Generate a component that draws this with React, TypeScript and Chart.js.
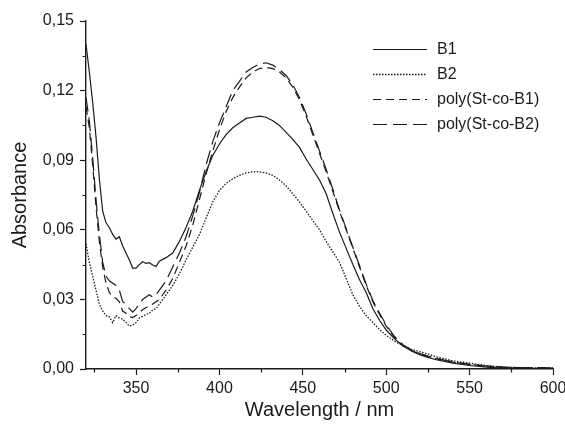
import React, { useEffect, useRef } from "react";
import { Chart, registerables } from "chart.js";

Chart.register(...registerables);

const wavelengths = [320,322,324,326,328,330,332,334,336,338,340,342,344,346,348,350,352,354,356,358,360,362,364,368,372,376,380,384,388,392,396,400,404,408,412,416,420,424,428,432,436,440,444,448,452,456,460,464,468,472,476,480,484,488,492,496,500,505,510,515,520,525,530,540,550,560,570,580,590,600];

const b1 = [0.140,0.128,0.115,0.100,0.082,0.068,0.063,0.061,0.058,0.056,0.057,0.053,0.050,0.047,0.0435,0.0435,0.045,0.0462,0.0455,0.0458,0.0448,0.0442,0.0465,0.048,0.050,0.055,0.061,0.068,0.077,0.085,0.092,0.097,0.101,0.104,0.106,0.108,0.1085,0.109,0.1085,0.107,0.105,0.102,0.099,0.0955,0.0905,0.086,0.0815,0.0755,0.067,0.059,0.052,0.045,0.0385,0.033,0.026,0.021,0.0168,0.013,0.010,0.0078,0.0062,0.005,0.004,0.0025,0.0015,0.0008,0.0004,0.0001,0,0];

const b2 = [0.054,0.046,0.040,0.034,0.028,0.025,0.023,0.0225,0.020,0.023,0.022,0.0215,0.020,0.0185,0.019,0.020,0.022,0.0228,0.0235,0.024,0.0255,0.026,0.028,0.032,0.036,0.041,0.047,0.0525,0.058,0.065,0.072,0.077,0.080,0.082,0.0835,0.0845,0.085,0.085,0.0845,0.0835,0.0815,0.079,0.0755,0.072,0.068,0.064,0.060,0.055,0.0505,0.046,0.039,0.032,0.027,0.023,0.020,0.017,0.0145,0.012,0.010,0.0085,0.0075,0.0065,0.0053,0.0035,0.0025,0.0015,0.0008,0.0005,0.0005,0.0005];

const polyB1 = [0.113,0.104,0.088,0.070,0.055,0.044,0.037,0.033,0.031,0.0305,0.029,0.025,0.024,0.0225,0.0222,0.023,0.0245,0.0255,0.0265,0.027,0.028,0.029,0.030,0.034,0.039,0.046,0.053,0.062,0.073,0.084,0.094,0.103,0.111,0.117,0.1215,0.1255,0.128,0.1295,0.130,0.1295,0.128,0.1255,0.1215,0.116,0.109,0.101,0.093,0.085,0.0765,0.068,0.060,0.052,0.044,0.036,0.029,0.0235,0.0185,0.0135,0.010,0.008,0.0066,0.0055,0.0045,0.003,0.002,0.0013,0.0008,0.0006,0.0005,0.0005];

const polyB2 = [0.117,0.107,0.091,0.073,0.058,0.046,0.040,0.038,0.037,0.036,0.034,0.029,0.028,0.026,0.0245,0.026,0.028,0.030,0.031,0.032,0.031,0.032,0.034,0.038,0.044,0.050,0.057,0.066,0.076,0.088,0.098,0.106,0.113,0.120,0.124,0.128,0.130,0.1315,0.132,0.131,0.129,0.1265,0.1225,0.117,0.110,0.102,0.094,0.086,0.0775,0.0685,0.0605,0.0525,0.0445,0.0365,0.0295,0.024,0.019,0.014,0.0105,0.0083,0.0068,0.0056,0.0046,0.003,0.002,0.0013,0.0008,0.0006,0.0005,0.0005];

const seriesLabels = ["B1", "B2", "poly(St-co-B1)", "poly(St-co-B2)"];
const xMajorTicks = [350, 400, 450, 500, 550, 600];
const xMinorTicks = [325, 375, 425, 475, 525, 575];
const yMajorTicks = [0, 0.03, 0.06, 0.09, 0.12, 0.15];
const yMinorTicks = [0.015, 0.045, 0.075, 0.105, 0.135];

const FONT = "'Liberation Sans', Arial, Helvetica, sans-serif";
const INK = "#1a1a1a";

const minorTicksPlugin = {
  id: "minorTicks",
  afterDraw(chart: any) {
    const ctx = chart.ctx;
    const xs = chart.scales.x;
    const ys = chart.scales.y;
    const area = chart.chartArea;
    ctx.save();
    ctx.strokeStyle = INK;
    ctx.lineWidth = 1.2;
    ctx.beginPath();
    xMinorTicks.forEach((v) => {
      const px = Math.round(xs.getPixelForValue(v)) + 0.5;
      ctx.moveTo(px, area.bottom);
      ctx.lineTo(px, area.bottom + 3.5);
    });
    yMinorTicks.forEach((v) => {
      const py = Math.round(ys.getPixelForValue(v)) + 0.5;
      ctx.moveTo(area.left, py);
      ctx.lineTo(area.left - 3.5, py);
    });
    ctx.stroke();
    ctx.restore();
  },
};

const legendPlugin = {
  id: "insideLegend",
  afterDraw(chart: any) {
    const ctx = chart.ctx;
    ctx.save();
    ctx.font = `16px ${FONT}`;
    ctx.fillStyle = INK;
    ctx.textBaseline = "middle";
    chart.data.datasets.forEach((ds: any, i: number) => {
      const y = 49 + i * 25;
      ctx.beginPath();
      ctx.strokeStyle = ds.borderColor;
      ctx.lineWidth = ds.borderWidth;
      ctx.setLineDash(ds.borderDash || []);
      ctx.moveTo(373, y + 0.5);
      ctx.lineTo(427, y + 0.5);
      ctx.stroke();
      ctx.setLineDash([]);
      ctx.fillText(ds.label, 437, y + 1);
    });
    ctx.restore();
  },
};

export default function App() {
  const canvasRef = useRef<HTMLCanvasElement | null>(null);

  useEffect(() => {
    document.body.style.margin = "0";
    const canvas = canvasRef.current;
    if (!canvas) return;
    const mk = (vals: number[]) => wavelengths.map((x, i) => ({ x, y: vals[i] }));
    const styles = [
      { dash: [], width: 1.2 },
      { dash: [1.5, 1.5], width: 1.3 },
      { dash: [8, 5], width: 1.2 },
      { dash: [14, 6], width: 1.2 },
    ];
    const values = [b1, b2, polyB1, polyB2];
    const chart = new Chart(canvas, {
      type: "line",
      data: {
        datasets: values.map((vals, i) => ({
          label: seriesLabels[i],
          data: mk(vals),
          borderColor: INK,
          backgroundColor: INK,
          borderWidth: styles[i].width,
          borderDash: styles[i].dash,
          pointRadius: 0,
          tension: 0,
          fill: false,
        })),
      },
      options: {
        animation: false,
        responsive: false,
        devicePixelRatio: 1,
        layout: { padding: { top: 21, right: 12, left: 0, bottom: 0 } },
        plugins: { legend: { display: false }, tooltip: { enabled: false } },
        scales: {
          x: {
            type: "linear",
            min: 320,
            max: 600,
            afterBuildTicks: (s: any) => {
              s.ticks = xMajorTicks.map((v) => ({ value: v }));
            },
            afterFit: (s: any) => {
              s.height = 55;
              s.paddingRight = 0;
              s.paddingLeft = 0;
            },
            ticks: {
              font: { family: FONT, size: 16 },
              color: INK,
              padding: 4,
              maxRotation: 0,
              autoSkip: false,
              callback: (v: any) => String(v),
            },
            grid: {
              drawOnChartArea: false,
              drawTicks: true,
              tickLength: 6,
              tickColor: INK,
              tickWidth: 1.2,
            },
            border: { color: INK, width: 1.4 },
            title: {
              display: true,
              text: "Wavelength / nm",
              font: { family: FONT, size: 20 },
              color: INK,
              padding: { top: 0, bottom: 2 },
            },
          },
          y: {
            type: "linear",
            min: 0,
            max: 0.15,
            afterBuildTicks: (s: any) => {
              s.ticks = yMajorTicks.map((v) => ({ value: v }));
            },
            afterFit: (s: any) => {
              s.width = 86;
            },
            ticks: {
              font: { family: FONT, size: 16 },
              color: INK,
              padding: 6,
              autoSkip: false,
              callback: (v: any) => Number(v).toFixed(2).replace(".", ","),
            },
            grid: {
              drawOnChartArea: false,
              drawTicks: true,
              tickLength: 6,
              tickColor: INK,
              tickWidth: 1.2,
            },
            border: { color: INK, width: 1.4 },
            title: {
              display: true,
              text: "Absorbance",
              font: { family: FONT, size: 20 },
              color: INK,
              padding: { top: 8, bottom: 0 },
            },
          },
        },
      },
      plugins: [minorTicksPlugin, legendPlugin],
    } as any);
    return () => chart.destroy();
  }, []);

  return (
    <div style={{ width: 565, height: 424, position: "relative", background: "#fff" }}>
      <canvas ref={canvasRef} width={565} height={424} />
    </div>
  );
}
